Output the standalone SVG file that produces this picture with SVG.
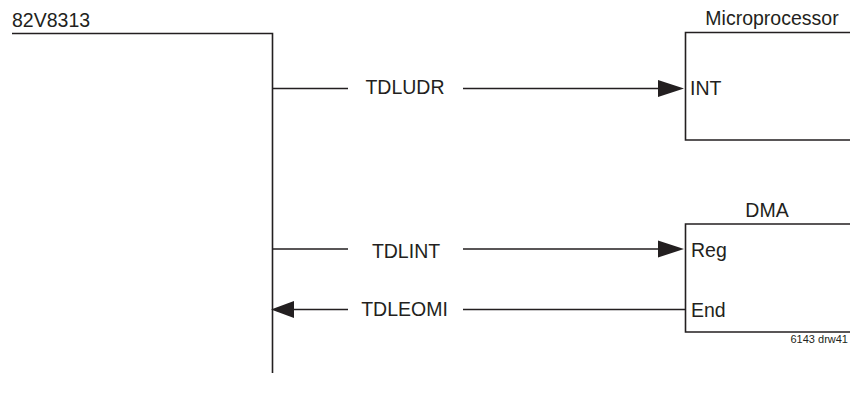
<svg xmlns="http://www.w3.org/2000/svg" width="850" height="403" viewBox="0 0 850 403">
<style>
.ln{stroke:#231f20;stroke-width:1.6;fill:none}
.bx{stroke:#231f20;stroke-width:1.6;fill:#fff}
.t{font-family:"Liberation Sans",Arial,sans-serif;font-size:19.5px;fill:#231f20}
.s{font-family:"Liberation Sans",Arial,sans-serif;font-size:11px;fill:#231f20}
.ah{fill:#231f20}
</style>
<rect width="850" height="403" fill="#fff"/>
<g id="chip">
<text class="t" x="12" y="26.5">82V8313</text>
<path class="ln" d="M12 33.5H272.5V373"/>
</g>
<g id="microprocessor">
<text class="t" x="772" y="25" text-anchor="middle">Microprocessor</text>
<path class="bx" d="M851 32.5H685.5V140H851"/>
<text class="t" x="690" y="95">INT</text>
</g>
<g id="dma">
<text class="t" x="767" y="217" text-anchor="middle">DMA</text>
<path class="bx" d="M851 224H685.5V332H851"/>
<text class="t" x="691" y="257">Reg</text>
<text class="t" x="691" y="317">End</text>
</g>
<g id="connectors">
<path class="ln" d="M272.5 88.5H348M463 88.5H660"/>
<polygon class="ah" points="658,80 684,88.5 658,97"/>
<text class="t" x="405" y="93.5" text-anchor="middle">TDLUDR</text>
<path class="ln" d="M272.5 249H348M463 249H660"/>
<polygon class="ah" points="658,240.5 684,249 658,257.5"/>
<text class="t" x="406" y="258" text-anchor="middle">TDLINT</text>
<path class="ln" d="M292 309.5H348M463 309.5H685.5"/>
<polygon class="ah" points="294,301 271,309.5 294,318"/>
<text class="t" x="404.5" y="316" text-anchor="middle">TDLEOMI</text>
</g>
<text class="s" x="848" y="343" text-anchor="end">6143 drw41</text>
</svg>
